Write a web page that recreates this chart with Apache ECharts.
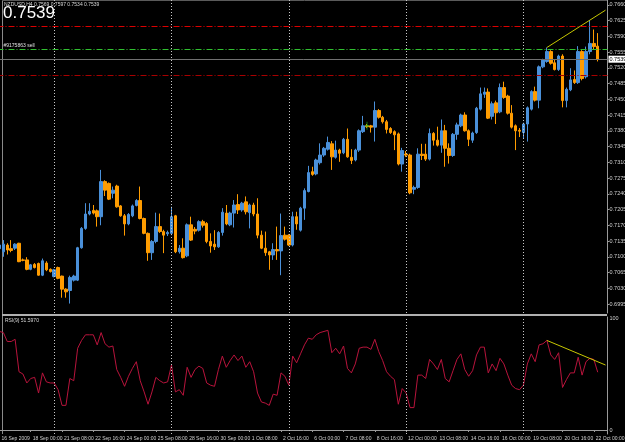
<!DOCTYPE html>
<html><head><meta charset="utf-8">
<script src="https://cdn.jsdelivr.net/npm/echarts@6/dist/echarts.min.js"></script>
<style>html,body{margin:0;padding:0;background:#000;}#c{width:625px;height:442px;}</style>
</head><body><div id="c"></div>
<script>
// ---------- data ----------
const symbolName = 'NZDUSD,H4';
const headerOHLC = [0.7569, 0.7597, 0.7534, 0.7539];
const bid = 0.7539;

const open = [
.7118,.7111,.7126,.7118,.7119,.7130,.7093,.7093,.7072,.7083,
.7085,.7059,.7086,.7072,.7056,.7076,.7057,.7028,.7025,.7048,
.7048,.7120,.7163,.7195,.7203,.7202,.7189,.7267,.7263,.7241,
.7257,.7213,.7191,.7173,.7191,.7214,.7225,.7185,.7152,.7109,
.7134,.7167,.7156,.7151,.7152,.7191,.7111,.7119,.7102,.7171,
.7161,.7159,.7178,.7174,.7134,.7128,.7122,.7154,.7197,.7171,
.7197,.7216,.7204,.7222,.7198,.7215,.7195,.7148,.7119,.7111,
.7104,.7116,.7113,.7148,.7148,.7126,.7189,.7159,.7208,.7245,
.7289,.7284,.7309,.7326,.7339,.7351,.7321,.7337,.7331,.7361,
.7321,.7315,.7337,.7378,.7391,.7391,.7388,.7425,.7410,.7400,
.7385,.7378,.7373,.7306,.7328,.7326,.7250,.7254,.7328,.7328,
.7317,.7374,.7359,.7348,.7380,.7341,.7325,.7372,.7391,.7415,
.7380,.7359,.7376,.7428,.7461,.7466,.7412,.7442,.7422,.7476,
.7457,.7419,.7391,.7381,.7376,.7395,.7428,.7467,.7448,.7522,
.7534,.7556,.7531,.7516,.7546,.7447,.7471,.7494,.7487,.7556,
.7500,.7556,.7574,.7568];
const high = [
.7132,.7137,.7130,.7137,.7130,.7131,.7096,.7099,.7084,.7086,
.7087,.7096,.7090,.7074,.7073,.7078,.7058,.7030,.7058,.7060,
.7122,.7166,.7219,.7219,.7215,.7205,.7293,.7270,.7265,.7256,
.7260,.7215,.7195,.7197,.7216,.7228,.7256,.7187,.7154,.7137,
.7198,.7196,.7160,.7158,.7211,.7193,.7126,.7141,.7174,.7189,
.7166,.7181,.7182,.7177,.7152,.7159,.7157,.7208,.7215,.7200,
.7226,.7239,.7222,.7234,.7218,.7220,.7230,.7158,.7156,.7113,
.7130,.7167,.7196,.7167,.7150,.7200,.7200,.7211,.7252,.7302,
.7300,.7318,.7352,.7344,.7367,.7357,.7358,.7340,.7364,.7385,
.7339,.7340,.7383,.7413,.7395,.7393,.7445,.7428,.7413,.7404,
.7388,.7381,.7376,.7342,.7335,.7329,.7258,.7341,.7351,.7351,
.7385,.7377,.7389,.7405,.7393,.7352,.7375,.7398,.7418,.7421,
.7383,.7378,.7433,.7476,.7476,.7474,.7445,.7447,.7485,.7489,
.7460,.7437,.7394,.7386,.7398,.7434,.7470,.7478,.7525,.7540,
.7565,.7559,.7539,.7549,.7550,.7476,.7519,.7514,.7568,.7559,
.7567,.7626,.7605,.7597];
const low = [
.7110,.7100,.7105,.7110,.7115,.7088,.7090,.7070,.7070,.7074,
.7058,.7057,.7068,.7065,.7054,.7050,.7009,.7009,.6996,.7045,
.7046,.7118,.7160,.7192,.7194,.7167,.7170,.7235,.7226,.7230,
.7209,.7189,.7147,.7170,.7188,.7212,.7183,.7150,.7091,.7093,
.7130,.7153,.7108,.7146,.7148,.7108,.7107,.7096,.7099,.7135,
.7150,.7156,.7165,.7130,.7109,.7115,.7120,.7147,.7170,.7168,
.7165,.7195,.7200,.7194,.7163,.7190,.7141,.7117,.7102,.7071,
.7093,.7093,.7059,.7136,.7124,.7123,.7160,.7156,.7182,.7243,
.7280,.7281,.7305,.7322,.7336,.7293,.7318,.7311,.7328,.7320,
.7306,.7312,.7333,.7375,.7386,.7376,.7356,.7407,.7396,.7374,
.7373,.7337,.7303,.7289,.7322,.7239,.7239,.7251,.7315,.7313,
.7314,.7347,.7345,.7331,.7300,.7307,.7322,.7360,.7388,.7378,
.7346,.7353,.7373,.7425,.7453,.7406,.7405,.7395,.7419,.7451,
.7416,.7385,.7337,.7366,.7363,.7356,.7425,.7445,.7430,.7519,
.7531,.7527,.7514,.7513,.7432,.7432,.7468,.7484,.7484,.7492,
.7496,.7550,.7560,.7534];
const close = [
.7126,.7128,.7115,.7114,.7128,.7089,.7092,.7072,.7082,.7076,
.7059,.7091,.7071,.7067,.7071,.7052,.7028,.7022,.7054,.7057,
.7120,.7163,.7195,.7201,.7197,.7189,.7267,.7248,.7228,.7248,
.7211,.7191,.7173,.7194,.7213,.7225,.7185,.7152,.7109,.7134,
.7167,.7156,.7148,.7154,.7189,.7111,.7119,.7098,.7171,.7137,
.7157,.7178,.7170,.7134,.7124,.7122,.7154,.7199,.7173,.7197,
.7215,.7204,.7219,.7200,.7215,.7195,.7148,.7119,.7109,.7104,
.7116,.7113,.7147,.7139,.7126,.7189,.7173,.7208,.7247,.7287,
.7283,.7315,.7326,.7341,.7354,.7322,.7337,.7330,.7361,.7322,
.7314,.7337,.7380,.7391,.7389,.7388,.7425,.7410,.7400,.7383,
.7376,.7371,.7306,.7336,.7326,.7242,.7254,.7328,.7325,.7317,
.7374,.7359,.7348,.7380,.7341,.7325,.7372,.7393,.7415,.7380,
.7361,.7375,.7430,.7462,.7466,.7408,.7440,.7420,.7476,.7454,
.7419,.7388,.7380,.7379,.7395,.7431,.7467,.7448,.7522,.7537,
.7556,.7530,.7516,.7546,.7447,.7472,.7493,.7487,.7556,.7496,
.7556,.7574,.7567,.7539];
const rsi = [
88,87,79,79,81,52,50,42,46,47,
33,51,43,42,42,36,22,22,46,44,
73,80,85,85,85,76,87,77,74,75,
54,47,39,48,55,61,44,34,23,34,
47,44,42,43,58,34,36,31,56,47,
54,57,55,42,40,39,54,66,56,62,
67,62,66,56,61,52,33,25,24,22,
32,31,51,48,40,66,60,68,76,82,
81,85,87,88,89,69,73,68,75,55,
51,59,73,74,74,72,81,70,62,52,
48,45,23,37,33,20,20,49,49,46,
63,59,54,63,46,43,53,63,68,54,
48,53,67,74,74,51,59,53,64,59,
49,40,37,36,40,59,68,61,76,77,
80,67,63,69,38,45,51,51,65,49,
61,64,63,51.597];
const rsiLabel = 'RSI(9) 51.5970';

const timeLabels = ['16 Sep 2009','18 Sep 00:00','21 Sep 08:00','22 Sep 16:00','24 Sep 00:00','25 Sep 08:00','28 Sep 16:00','30 Sep 00:00','1 Oct 08:00','2 Oct 16:00','6 Oct 00:00','7 Oct 08:00','8 Oct 16:00','12 Oct 00:00','13 Oct 08:00','14 Oct 16:00','16 Oct 00:00','19 Oct 08:00','20 Oct 16:00','22 Oct 00:00'];
const labelBars = [0,8,16,24,32,40,48,56,64,72,80,88,96,104,112,120,128,136,144,152];
const priceTicks = [0.6995,0.7030,0.7065,0.7100,0.7135,0.7170,0.7205,0.7240,0.7275,0.7310,0.7345,0.7380,0.7415,0.7450,0.7485,0.7520,0.7555,0.7590,0.7625,0.7660];
const rsiTicks = [0, 100];
const weekSeparators = [14, 44, 74, 104, 134];
const priceTrend = [[140, 0.7565], [155, 0.7648]];
const rsiTrend = [[140, 80], [155, 58]];
const redLevels = [0.7613, 0.7503];
const greenLevel = 0.7561;
const orderLabel = '#9175863 sell';
const entryMark = [[94, 0.7391]];

// ---------- chart ----------
const BULL = '#4a90d9', BEAR = '#ff9c00';
const FONT = 'Liberation Sans';
const AX = '#9a9a9a';
const nCats = close.length + 2;
const cats = Array.from({length: nCats}, (_, i) => String(i));
const labelMap = {};
labelBars.forEach((b, k) => { labelMap[b] = timeLabels[k]; });
const candles = open.map((o, i) => [o, close[i], low[i], high[i]]);

const sepLines = weekSeparators.map(b => ({
  xAxis: String(b),
  lineStyle: {color: '#c8c8c8', type: [1, 2], width: 1},
  label: {show: false}
}));
const dashDot = [6, 2, 1, 2];

const chart = echarts.init(document.getElementById('c'), null, {renderer: 'canvas'});
chart.setOption({
  backgroundColor: '#000000',
  animation: false,
  grid: [
    {left: -2.5, width: 610, top: 0, height: 313, containLabel: false, outerBoundsMode: 'none'},
    {left: -2.5, width: 610, top: 317, height: 117, containLabel: false, outerBoundsMode: 'none'}
  ],
  xAxis: [
    {type: 'category', gridIndex: 0, data: cats, boundaryGap: true,
     axisLine: {show: false}, axisTick: {show: false}, axisLabel: {show: false}, splitLine: {show: false}},
    {type: 'category', gridIndex: 1, data: cats, boundaryGap: true,
     axisLine: {show: true, lineStyle: {color: AX, width: 1}},
     axisTick: {show: true, alignWithLabel: true, length: 2, interval: (i) => labelMap[i] !== undefined, lineStyle: {color: AX}},
     axisLabel: {show: true, interval: (i) => labelMap[i] !== undefined, formatter: (v, i) => labelMap[i] || '',
       color: '#d0d0d0', fontSize: 5, fontFamily: FONT, align: 'left', margin: 2, padding: [0, 0, 0, 2], hideOverlap: false},
     splitLine: {show: false}}
  ],
  yAxis: [
    {type: 'value', gridIndex: 0, position: 'right', min: 0.6975, max: 0.767056,
     axisLine: {show: true, lineStyle: {color: AX}},
     axisTick: {show: true, customValues: priceTicks, length: 2, lineStyle: {color: AX}},
     axisLabel: {show: true, customValues: priceTicks, formatter: (v) => v.toFixed(4), color: '#d0d0d0', fontSize: 5.5, fontFamily: FONT, margin: 2},
     splitLine: {show: false}},
    {type: 'value', gridIndex: 1, position: 'right', min: -3.57, max: 100.9,
     axisLine: {show: true, lineStyle: {color: AX}},
     axisTick: {show: false},
     axisLabel: {show: true, customValues: rsiTicks, formatter: (v) => String(Math.round(v)), color: '#d0d0d0', fontSize: 5.5, fontFamily: FONT, margin: 2},
     splitLine: {show: false}}
  ],
  series: [
    {type: 'candlestick', xAxisIndex: 0, yAxisIndex: 0, data: candles, barWidth: 3,
     itemStyle: {color: BULL, color0: BEAR, borderColor: BULL, borderColor0: BEAR, borderWidth: 1},
     markLine: {silent: true, symbol: ['none', 'none'], animation: false, precision: 6,
       data: sepLines.concat([
         {yAxis: redLevels[0], lineStyle: {color: '#dc0000', type: dashDot, width: 1}, label: {show: false}},
         {yAxis: redLevels[1], lineStyle: {color: '#a80000', type: dashDot, width: 1}, label: {show: false}},
         {yAxis: greenLevel, lineStyle: {color: '#30c030', type: dashDot, width: 1},
          label: {show: true, position: 'insideStartTop', formatter: orderLabel, color: '#e0e0e0', fontSize: 5, fontFamily: FONT, distance: [6, 1]}},
         {yAxis: bid, lineStyle: {color: '#707070', type: 'solid', width: 1},
          label: {show: true, position: 'end', formatter: bid.toFixed(4), color: '#000', backgroundColor: '#ffffff', fontSize: 5.5, fontFamily: FONT, padding: [1, 1, 0, 1], distance: 1}}
       ])}},
    {type: 'line', xAxisIndex: 0, yAxisIndex: 0, data: priceTrend, symbol: 'none',
     lineStyle: {color: '#c8c800', width: 1}, silent: true},
    {type: 'scatter', xAxisIndex: 0, yAxisIndex: 0, data: entryMark,
     symbol: 'path://M2,0H3V4H5V5H3V9H2V5H0V4H2Z', symbolSize: [4, 8], itemStyle: {color: '#22c022'}, silent: true},
    {type: 'line', xAxisIndex: 1, yAxisIndex: 1, data: rsi, symbol: 'none',
     lineStyle: {color: '#b8143c', width: 1}, silent: true,
     markLine: {silent: true, symbol: ['none', 'none'], animation: false, data: sepLines}},
    {type: 'line', xAxisIndex: 1, yAxisIndex: 1, data: rsiTrend, symbol: 'none',
     lineStyle: {color: '#c8c800', width: 1}, silent: true}
  ],
  graphic: [
    {type: 'line', shape: {x1: 2.5, y1: 0, x2: 2.5, y2: 434}, style: {stroke: '#8a8a8a', lineWidth: 1}, silent: true},
    {type: 'line', shape: {x1: 2, y1: 0.5, x2: 607, y2: 0.5}, style: {stroke: '#5a5a5a', lineWidth: 1}, silent: true},
    {type: 'line', shape: {x1: 2, y1: 315, x2: 607, y2: 315}, style: {stroke: '#b0b0b0', lineWidth: 2}, silent: true},
    {type: 'text', x: 4, y: 5, silent: true,
     style: {text: symbolName + ' ' + headerOHLC.map(v => v.toFixed(4)).join(' '), fill: '#d8d8d8', font: '5px "Liberation Sans"', textAlign: 'left', textVerticalAlign: 'middle'}},
    {type: 'text', x: 3, y: 13.5, silent: true,
     style: {text: bid.toFixed(4), fill: '#ffffff', font: '17px "Liberation Sans"', textAlign: 'left', textVerticalAlign: 'middle'}},
    {type: 'text', x: 5, y: 320.5, silent: true,
     style: {text: rsiLabel, fill: '#d8d8d8', font: '5px "Liberation Sans"', textAlign: 'left', textVerticalAlign: 'middle'}}
  ]
});
</script>
</body></html>
